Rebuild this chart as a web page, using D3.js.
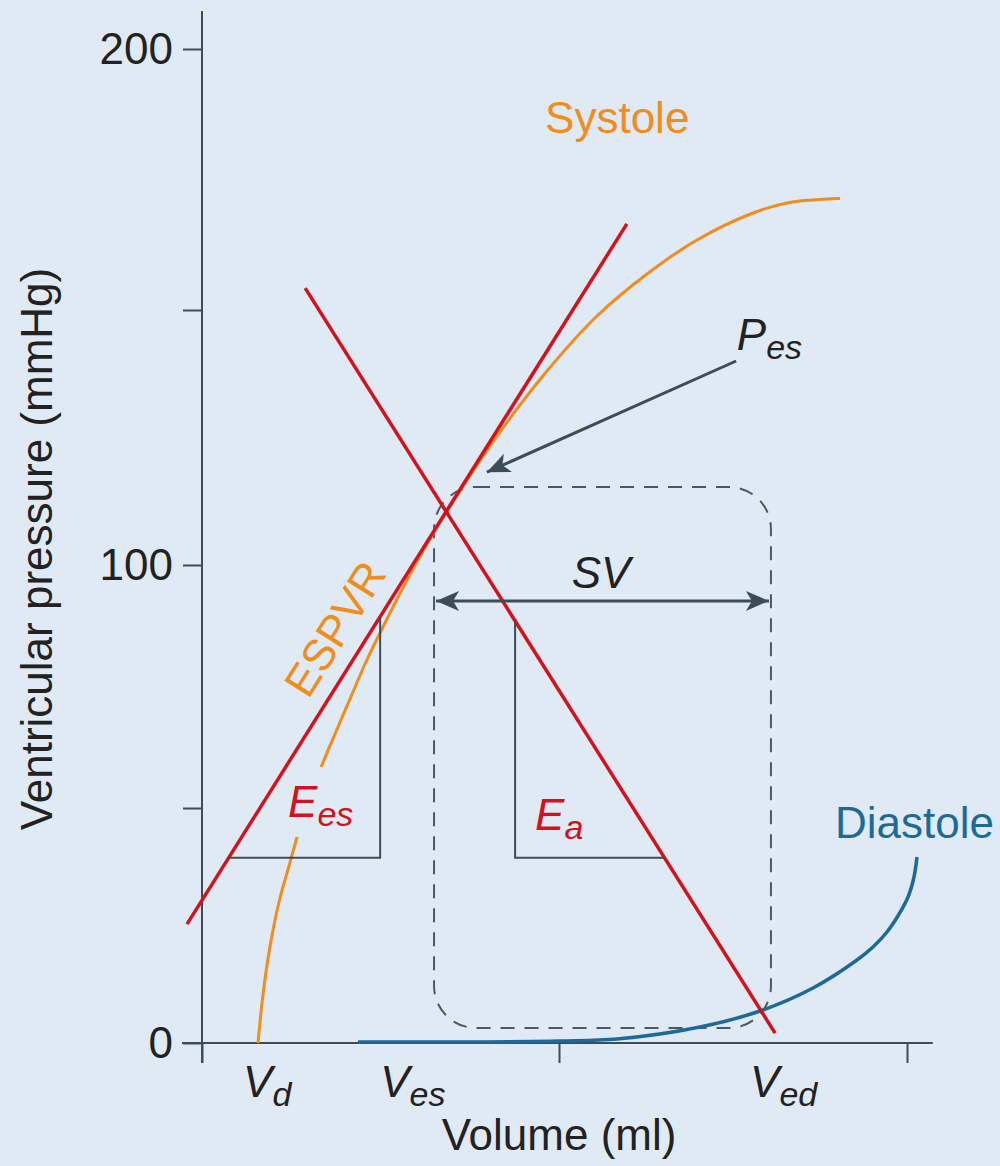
<!DOCTYPE html>
<html><head><meta charset="utf-8">
<script src="https://cdn.jsdelivr.net/npm/d3@7"></script>
<style>
html,body{margin:0;padding:0;background:#e0eaf4;}
svg{display:block;}
text{font-family:"Liberation Sans",Arial,Helvetica,sans-serif;}
</style></head><body>
<svg id="chart" width="1000" height="1166"></svg>
<script>
// ---------- data ----------
const pressureTicks = [0, 50, 100, 150, 200];
const pressureTickLabels = ["0", "", "100", "", "200"];
const volumeTicks = [0, 100, 200];

const systoleVolume   = [15.69, 16.81, 18.21, 19.89, 21.85, 24.37, 26.89, 30.25, 33.05, 37.25, 41.46, 45.66, 49.86, 57.42, 63.87, 68.63, 82.63, 96.64, 110.92, 125.29, 139.66, 155.75, 165.52, 172.70, 180.75];
const systolePressure = [0, 8.51, 16.60, 24.04, 30.85, 37.66, 44.47, 52.26, 57.82, 65.23, 72.43, 79.63, 86.01, 96.91, 105.10, 110.59, 125.29, 138.04, 148.82, 156.90, 163.41, 168.58, 170.50, 171.07, 171.36];

const diastoleVolume   = [43.70, 69.47, 100.29, 116.67, 140.52, 157.76, 172.99, 185.63, 190.23, 194.25, 197.56, 200.29, 202.01, 202.87];
const diastolePressure = [0.21, 0.21, 0.43, 0.85, 3.40, 6.81, 11.70, 17.66, 20.43, 23.62, 27.23, 31.06, 35.32, 39.57];

const espvrVolume   = [-4.2, 119.5];
const espvrPressure = [25.3, 166.5];
const eaVolume   = [28.9, 162.1];
const eaPressure = [154.2, 2.1];

const eesTriangleVolume   = [7.4, 49.9, 49.9];
const eesTrianglePressure = [39.4, 39.4, 89.3];
const eaTriangleVolume   = [87.7, 87.7, 130.3];
const eaTrianglePressure = [88.5, 39.4, 39.4];

const loopVolume   = [65.0, 160.9];
const loopPressure = [3.2, 115.3];
const svPressure = 92.6;
const pesArrowVolume   = [150.9, 79.8];
const pesArrowPressure = [140.0, 118.2];

const volumeMarkLabels = ["d", "es", "ed"];
const volumeMarkValues = [11.5, 49.9, 154.9];

// ---------- setup ----------
const W = 1000, H = 1166;
const svg = d3.select("#chart");
svg.append("rect").attr("width", W).attr("height", H).attr("fill", "#e0eaf4");

const x = d3.scaleLinear().domain([0, 100, 200]).range([202, 559, 907]);
const y = d3.scaleLinear().domain([0, 50, 100, 150, 200]).range([1043, 808, 565, 310, 49]);

const AX = "#3c4d55", RED = "#d3121e", ORANGE = "#f28c1c", BLUE = "#1d6a99", TXT = "#222";
const FS = 44, SUB = 34;

// ---------- axes ----------
const yAxis = d3.axisLeft(y).tickValues(pressureTicks).tickSize(19).tickPadding(10)
  .tickFormat((d, i) => pressureTickLabels[i]);
const gy = svg.append("g").attr("transform", `translate(${x(0)},0)`).call(yAxis);
gy.select(".domain").remove();
gy.selectAll(".tick line").attr("stroke", AX).attr("stroke-width", 2);
gy.selectAll(".tick text").attr("fill", TXT).attr("font-size", FS)
  .attr("font-family", '"Liberation Sans",Arial,sans-serif');

const xAxis = d3.axisBottom(x).tickValues(volumeTicks).tickSize(20).tickFormat("");
const gx = svg.append("g").attr("transform", `translate(0,${y(0)})`).call(xAxis);
gx.select(".domain").remove();
gx.selectAll(".tick line").attr("stroke", AX).attr("stroke-width", 2);

svg.append("line").attr("x1", x(0)).attr("x2", x(0)).attr("y1", y(207.3)).attr("y2", y(0) + 20)
  .attr("stroke", AX).attr("stroke-width", 2);
svg.append("line").attr("x1", x(-5.6)).attr("x2", x(207.4)).attr("y1", y(0)).attr("y2", y(0))
  .attr("stroke", AX).attr("stroke-width", 2);

// axis titles
svg.append("text").attr("transform", `translate(52,${(y(0) + y(200)) / 2 + 3}) rotate(-90)`)
  .attr("text-anchor", "middle").attr("font-size", FS).attr("fill", TXT)
  .text("Ventricular pressure (mmHg)");
svg.append("text").attr("x", x(100)).attr("y", 1150).attr("text-anchor", "middle")
  .attr("font-size", FS).attr("fill", TXT).text("Volume (ml)");

// ---------- defs ----------
const defs = svg.append("defs");
defs.append("marker").attr("id", "arrow").attr("markerUnits", "userSpaceOnUse")
  .attr("viewBox", "-24 -11 26 22").attr("refX", 0).attr("refY", 0)
  .attr("markerWidth", 26).attr("markerHeight", 22).attr("orient", "auto-start-reverse")
  .append("path").attr("d", "M0,0 L-23,-10 L-17,0 L-23,10 Z").attr("fill", AX);

// ---------- pressure-volume loop box ----------
svg.append("rect")
  .attr("x", x(loopVolume[0])).attr("y", y(loopPressure[1]))
  .attr("width", x(loopVolume[1]) - x(loopVolume[0]))
  .attr("height", y(loopPressure[0]) - y(loopPressure[1]))
  .attr("rx", 42).attr("ry", 42)
  .attr("fill", "none").attr("stroke", "#4a5961").attr("stroke-width", 2)
  .attr("stroke-dasharray", "14,10");

// ---------- curves ----------
const line = d3.line().x(d => x(d[0])).y(d => y(d[1])).curve(d3.curveCatmullRom.alpha(0.5));

svg.append("path").datum(diastoleVolume.map((v, i) => [v, diastolePressure[i]]))
  .attr("d", line).attr("fill", "none").attr("stroke", BLUE).attr("stroke-width", 3.5);

svg.append("path").datum(systoleVolume.map((v, i) => [v, systolePressure[i]]))
  .attr("d", line).attr("fill", "none").attr("stroke", ORANGE).attr("stroke-width", 3);

// E_es label background (the curve is interrupted around it)
const eesBg = svg.append("rect").attr("fill", "#e0eaf4");

// ---------- straight lines ----------
const straight = d3.line().x(d => x(d[0])).y(d => y(d[1]));
svg.append("path").datum(espvrVolume.map((v, i) => [v, espvrPressure[i]]))
  .attr("d", straight).attr("stroke", RED).attr("stroke-width", 3.5).attr("fill", "none");
svg.append("path").datum(eaVolume.map((v, i) => [v, eaPressure[i]]))
  .attr("d", straight).attr("stroke", RED).attr("stroke-width", 3.5).attr("fill", "none");

// slope triangles
svg.append("path").datum(eesTriangleVolume.map((v, i) => [v, eesTrianglePressure[i]]))
  .attr("d", straight).attr("stroke", AX).attr("stroke-width", 2).attr("fill", "none");
svg.append("path").datum(eaTriangleVolume.map((v, i) => [v, eaTrianglePressure[i]]))
  .attr("d", straight).attr("stroke", AX).attr("stroke-width", 2).attr("fill", "none");

// ---------- arrows ----------
svg.append("line")
  .attr("x1", x(loopVolume[0]) + 2).attr("x2", x(loopVolume[1]) - 2)
  .attr("y1", y(svPressure)).attr("y2", y(svPressure))
  .attr("stroke", AX).attr("stroke-width", 3)
  .attr("marker-start", "url(#arrow)").attr("marker-end", "url(#arrow)");
svg.append("line")
  .attr("x1", x(pesArrowVolume[0])).attr("y1", y(pesArrowPressure[0]))
  .attr("x2", x(pesArrowVolume[1])).attr("y2", y(pesArrowPressure[1]))
  .attr("stroke", AX).attr("stroke-width", 3).attr("marker-end", "url(#arrow)");

// ---------- labels ----------
function subLabel(px, py, main, sub, color, anchor) {
  const t = svg.append("text").attr("x", px).attr("y", py).attr("fill", color)
    .attr("font-size", FS).attr("font-style", "italic").attr("text-anchor", anchor || "start");
  t.append("tspan").text(main);
  t.append("tspan").attr("font-size", SUB).attr("dy", 9).text(sub);
  return t;
}

svg.append("text").attr("x", x(96.1)).attr("y", y(183.9)).attr("fill", ORANGE)
  .attr("font-size", FS).text("Systole");
svg.append("text").attr("x", x(179.3)).attr("y", y(43.6)).attr("fill", BLUE)
  .attr("font-size", FS).text("Diastole");

const ang = Math.atan2(y(espvrPressure[1]) - y(espvrPressure[0]), x(espvrVolume[1]) - x(espvrVolume[0])) * 180 / Math.PI;
svg.append("text").attr("transform", `translate(${x(40.9)},${y(85.2)}) rotate(${ang})`)
  .attr("text-anchor", "middle").attr("fill", ORANGE).attr("font-size", FS).text("ESPVR");

subLabel(x(151.1), y(142.2), "P", "es", TXT);
svg.append("text").attr("x", x(112.1)).attr("y", y(95.3)).attr("text-anchor", "middle")
  .attr("fill", TXT).attr("font-size", FS).attr("font-style", "italic").text("SV");

const eesLab = subLabel(x(24.1), y(48.1), "E", "es", RED);
subLabel(x(93.3), y(45.3), "E", "a", RED);

const bb = eesLab.node().getBBox();
eesBg.attr("x", bb.x - 2).attr("y", bb.y - 10).attr("width", bb.width + 4).attr("height", bb.height + 14);

volumeMarkValues.forEach((v, i) => {
  subLabel(x(v), 1097, "V", volumeMarkLabels[i], TXT);
});
</script>
</body></html>
